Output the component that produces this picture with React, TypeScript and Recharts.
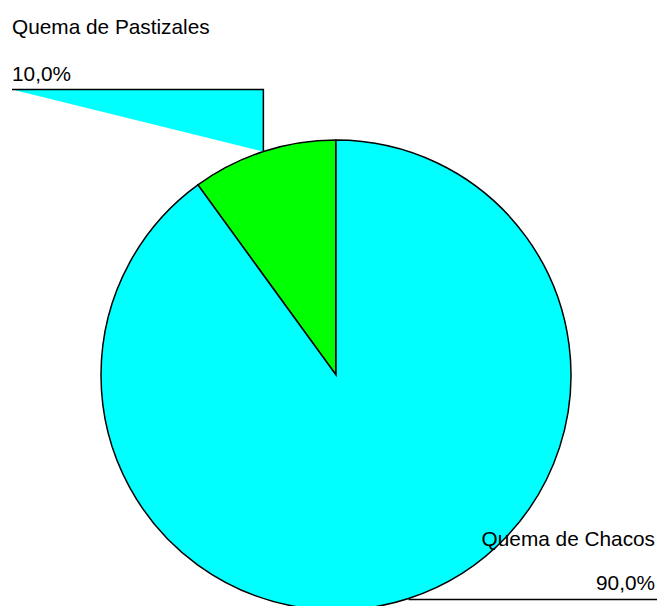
import React from 'react';
import { PieChart, Pie, Cell } from 'recharts';

const categories = ['Quema de Pastizales', 'Quema de Chacos'];
const values = [10, 90];
const colors = ['#00FF00', '#00FFFF'];

const data = categories.map((name, i) => ({ name, value: values[i] }));
const total = values.reduce((a, b) => a + b, 0);
const fmt = (v: number) => ((v / total) * 100).toFixed(1).replace('.', ',') + '%';

const RAD = Math.PI / 180;
const FONT = '"Liberation Sans", Arial, sans-serif';
const FS = 20.8;

const renderLabel = (props: any) => {
  const { cx, cy, midAngle, outerRadius, index, value, name } = props;
  const tx = cx + outerRadius * Math.cos(-midAngle * RAD);
  const ty = cy + outerRadius * Math.sin(-midAngle * RAD);
  if (index === 0) {
    const cornerY = ty - 62;
    const endX = 12;
    return (
      <g key={`lbl-${index}`}>
        <polygon points={`${tx},${ty} ${tx},${cornerY} ${endX},${cornerY}`} fill="#00FFFF" stroke="none" />
        <polyline points={`${tx},${ty} ${tx},${cornerY} ${endX},${cornerY}`} fill="none" stroke="#000" strokeWidth={1.5} />
        <text x={endX} y={cornerY - 9} fontFamily={FONT} fontSize={FS} fill="#000" textAnchor="start">{fmt(value)}</text>
        <text x={endX} y={cornerY - 56} fontFamily={FONT} fontSize={FS} fill="#000" textAnchor="start">{name}</text>
      </g>
    );
  }
  const endX = 657;
  return (
    <g key={`lbl-${index}`}>
      <line x1={tx} y1={ty + 1} x2={endX} y2={ty + 1} stroke="#000" strokeWidth={1.5} />
      <text x={endX - 2} y={ty + 1 - 9} fontFamily={FONT} fontSize={FS} fill="#000" textAnchor="end">{fmt(value)}</text>
      <text x={endX - 2} y={ty + 1 - 53} fontFamily={FONT} fontSize={FS} fill="#000" textAnchor="end">{name}</text>
    </g>
  );
};

export default function App() {
  return (
    <div style={{ position: 'absolute', left: 0, top: 0, width: 660, height: 606, background: '#fff' }}>
      <PieChart width={660} height={606} margin={{ top: 0, right: 0, bottom: 0, left: 0 }}>
        <Pie
          data={data}
          dataKey="value"
          nameKey="name"
          cx={336}
          cy={375}
          outerRadius={235}
          innerRadius={0}
          startAngle={90}
          endAngle={450}
          stroke="#000"
          strokeWidth={1.5}
          label={renderLabel}
          labelLine={false}
          isAnimationActive={false}
        >
          {data.map((d, i) => (
            <Cell key={d.name} fill={colors[i]} stroke="#000" strokeWidth={1.5} />
          ))}
        </Pie>
      </PieChart>
    </div>
  );
}
